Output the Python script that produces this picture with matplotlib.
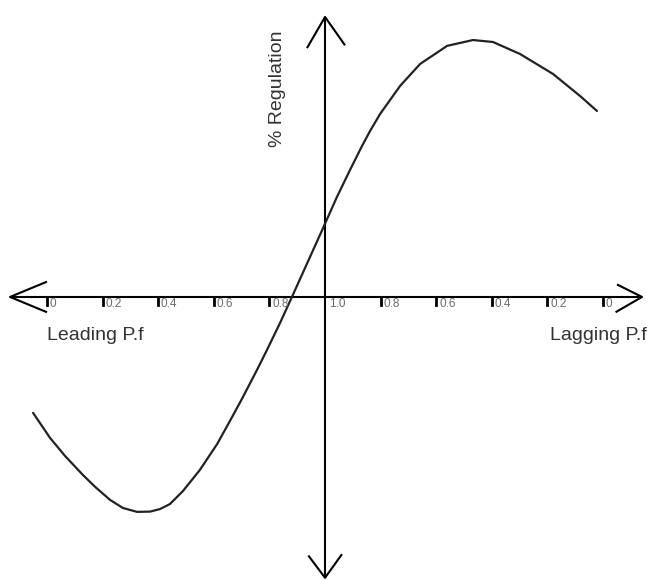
import matplotlib
matplotlib.use("Agg")
import matplotlib.pyplot as plt

# Regulation vs power factor, sketched curve.
# x: distance from unity p.f. (negative = leading, positive = lagging)
curve_x = [-1.050, -0.989, -0.935, -0.871, -0.827, -0.773, -0.727, -0.676,
           -0.629, -0.594, -0.558, -0.511, -0.450, -0.388, -0.342, -0.299,
           -0.245, -0.209, -0.162, -0.119, -0.072, -0.007, 0.043, 0.090,
           0.133, 0.162, 0.198, 0.270, 0.342, 0.439, 0.532, 0.604, 0.701,
           0.820, 0.917, 0.978]
curve_y = [-0.417, -0.507, -0.572, -0.640, -0.683, -0.730, -0.759, -0.773,
           -0.772, -0.763, -0.745, -0.698, -0.622, -0.529, -0.446, -0.367,
           -0.263, -0.191, -0.094, 0.0, 0.104, 0.248, 0.360, 0.457,
           0.543, 0.597, 0.658, 0.759, 0.838, 0.903, 0.924, 0.917, 0.874,
           0.802, 0.723, 0.669]

lead_ticks = [-1.0, -0.8, -0.6, -0.4, -0.2]
lead_labels = ["0", "0.2", "0.4", "0.6", "0.8"]
lag_ticks = [0.2, 0.4, 0.6, 0.8, 1.0]
lag_labels = ["0.8", "0.6", "0.4", "0.2", "0"]

plt.rcParams["font.family"] = ["Liberation Sans", "DejaVu Sans"]

fig = plt.figure(figsize=(6.47, 5.80), dpi=100)
ax = fig.add_axes([0, 0, 1, 1])
ax.set_xlim(-1.169, 1.158)
ax.set_ylim(-1.018, 1.068)
ax.axis("off")

axis_kw = dict(color="black", lw=1.5, solid_capstyle="butt")

# horizontal axis with open arrowheads
ax.plot([-1.133, 1.140], [0, 0], **axis_kw)
ax.plot([-1.0, -1.133, -1.0], [0.055, 0, -0.055], **axis_kw)
ax.plot([1.05, 1.140, 1.045], [0.045, 0, -0.055], **axis_kw)

# vertical axis with open arrowheads
ax.plot([0, 0], [-1.01, 1.007], **axis_kw)
ax.plot([-0.065, 0, 0.072], [0.895, 1.007, 0.905], **axis_kw)
ax.plot([-0.06, 0, 0.061], [-0.93, -1.01, -0.925], **axis_kw)

# tick marks and labels
label_kw = dict(fontsize=8.5, color="#6a6a6a", ha="left", va="center")
for t, lab in zip(lead_ticks + lag_ticks, lead_labels + lag_labels):
    if abs(t) > 0.01:
        ax.plot([t, t], [0.0, -0.03], color="black", lw=2.0)
    ax.text(t + 0.01, -0.024, lab, **label_kw)
ax.text(0.015, -0.024, "1.0", **label_kw)

ax.plot(curve_x, curve_y, color="#222222", lw=1.6,
        solid_joinstyle="round", solid_capstyle="round")

ax.text(-1.0, -0.14, "Leading P.f", fontsize=14, color="#333333",
        ha="left", va="center")
ax.text(1.158, -0.14, "Lagging P.f", fontsize=14, color="#333333",
        ha="right", va="center")
ax.text(-0.17, 0.75, "% Regulation", fontsize=14, color="#333333",
        rotation=90, ha="center", va="center")

fig.savefig("out.png", dpi=100, facecolor="white")
